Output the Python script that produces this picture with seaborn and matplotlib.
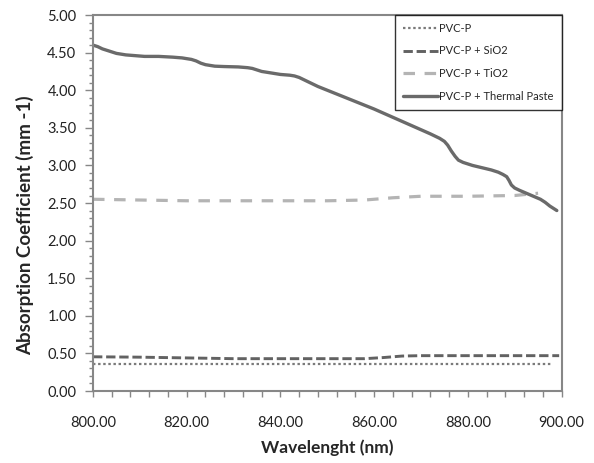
import matplotlib
matplotlib.use("Agg")
import matplotlib.pyplot as plt
from matplotlib.ticker import MultipleLocator, FormatStrFormatter
import seaborn as sns

# Data
wl_pvc = [800, 825, 850, 875, 898]
pvc = [0.355, 0.355, 0.355, 0.355, 0.355]

wl_sio2 = [800, 810, 820, 830, 840, 850, 858, 862, 866, 870, 880, 890, 899.5]
sio2 = [0.455, 0.45, 0.44, 0.43, 0.43, 0.43, 0.43, 0.445, 0.465, 0.47, 0.47, 0.47, 0.47]

wl_tio2 = [800, 810, 820, 830, 840, 850, 858, 864, 870, 880, 890, 895]
tio2 = [2.55, 2.54, 2.53, 2.53, 2.53, 2.53, 2.54, 2.57, 2.59, 2.59, 2.60, 2.63]

wl_paste = [800, 801, 802, 803.5, 805, 807, 809, 811, 814, 817, 819, 821, 822, 823, 824,
            825, 826, 828, 831, 833, 834, 835, 836, 837, 838, 840, 842, 843, 844, 845,
            846, 847, 848, 852, 856, 860, 864, 868, 872, 874, 875, 875.7, 876.5, 877.3,
            878, 879, 881, 883, 885, 886.5, 887.5, 888.3, 888.8, 889.3, 890, 891, 892.5,
            894, 895.5, 896.5, 897.5, 898.5, 899]
paste = [4.60, 4.58, 4.55, 4.52, 4.49, 4.47, 4.46, 4.45, 4.45, 4.44, 4.43, 4.41, 4.39, 4.36,
         4.34, 4.33, 4.32, 4.315, 4.31, 4.30, 4.29, 4.27, 4.25, 4.24, 4.23, 4.21, 4.20, 4.19,
         4.17, 4.14, 4.11, 4.08, 4.05, 3.95, 3.85, 3.75, 3.64, 3.53, 3.42, 3.36, 3.32, 3.27,
         3.19, 3.12, 3.07, 3.04, 3.00, 2.97, 2.94, 2.91, 2.88, 2.85, 2.80, 2.74, 2.70, 2.67,
         2.63, 2.59, 2.55, 2.51, 2.46, 2.42, 2.40]

sns.set_style("white")
plt.rcParams['font.family'] = ['Lato', 'DejaVu Sans']

fig = plt.figure(figsize=(5.94, 4.63), dpi=100)
ax = fig.add_axes([0.1566, 0.1555, 0.7887, 0.812])

sns.lineplot(x=wl_pvc, y=pvc, ax=ax, color="#7a7a7a", lw=1.6,
             linestyle=(0, (1.1, 1.2)), label="PVC-P")
sns.lineplot(x=wl_sio2, y=sio2, ax=ax, color="#626262", lw=2.1,
             linestyle=(0, (3.2, 1.3)), label="PVC-P + SiO2")
sns.lineplot(x=wl_tio2, y=tio2, ax=ax, color="#b4b4b4", lw=2.3,
             linestyle=(0, (3.6, 3.0)), label="PVC-P + TiO2")
sns.lineplot(x=wl_paste, y=paste, ax=ax, color="#6a6a6a", lw=2.4,
             label="PVC-P + Thermal Paste")

ax.set_xlim(800, 900)
ax.set_ylim(0, 5)
ax.xaxis.set_major_locator(MultipleLocator(20))
ax.xaxis.set_minor_locator(MultipleLocator(4))
ax.yaxis.set_major_locator(MultipleLocator(0.5))
ax.yaxis.set_minor_locator(MultipleLocator(0.1))
ax.xaxis.set_major_formatter(FormatStrFormatter("%.2f"))
ax.yaxis.set_major_formatter(FormatStrFormatter("%.2f"))

for s in ax.spines.values():
    s.set_color("#878787")
    s.set_linewidth(1.5)
ax.tick_params(axis="both", which="both", direction="out", color="#878787",
               labelsize=10.5, labelcolor="#222222")
ax.tick_params(axis="x", which="both", length=4, width=1, bottom=True, pad=14)
ax.tick_params(axis="y", which="major", length=6, width=1, left=True, pad=6)
ax.tick_params(axis="y", which="minor", length=3, width=1, left=True)

ax.set_xlabel("Wavelenght (nm)", fontsize=12.5, fontweight="bold", labelpad=7)
ax.set_ylabel("Absorption Coefficient (mm -1)", fontsize=13.5, fontweight="bold")
ax.yaxis.set_label_coords(-0.125, 0.44)

leg = ax.legend(loc="upper right", bbox_to_anchor=(1, 1), borderaxespad=0,
                fontsize=8, frameon=True, fancybox=False, handlelength=3.2,
                handletextpad=0.1, labelspacing=1.05, borderpad=0.7)
leg.get_frame().set_edgecolor("black")
leg.get_frame().set_linewidth(1.0)

fig.savefig("out.png", dpi=100)
